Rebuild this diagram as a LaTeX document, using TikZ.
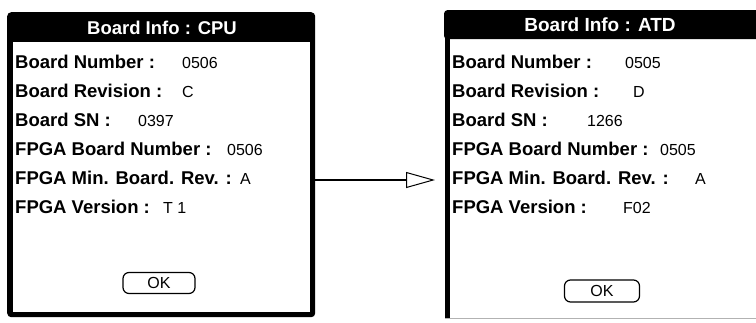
\documentclass[tikz,border=0pt]{standalone}
\usepackage{fontspec}
\setmainfont{Liberation Sans}
\usetikzlibrary{calc,arrows.meta}

\begin{document}
\begin{tikzpicture}[x=1pt,y=-1pt]

\useasboundingbox (0,0) rectangle (756,322);

\def\rowA{68.5}
\def\rowH{29}

% left dialog: CPU
\node [fill=black, rounded corners=4pt, inner sep=0, minimum width=308pt, minimum height=305pt, anchor=north west] (cpu) at (7,12) {};
\node [fill=white, inner sep=0, minimum width=297pt, minimum height=270pt, anchor=north west] (cpu_body) at (13,42) {};
\node [text=white, inner sep=0, font=\bfseries\fontsize{18.5}{18}\selectfont] (cpu_title) at (162,28) {Board Info : CPU};

\foreach \lab/\val/\vx [count=\k] in {Board Number :/0506/182, Board Revision :/C/182, Board SN :/0397/138, FPGA Board Number :/0506/227, FPGA Min. Board. Rev. :/A/240, FPGA Version :/T 1/163} {
    \node [anchor=base west, inner sep=0, font=\bfseries\fontsize{18.5}{20}\selectfont] (cpu_lab\k) at (15,{\rowA+(\k-1)*\rowH}) {\lab};
    \node [anchor=base west, inner sep=0, font=\fontsize{16}{18}\selectfont] (cpu_val\k) at (\vx,{\rowA+(\k-1)*\rowH}) {\val};
}

\node [draw, line width=1.2pt, rounded corners=6pt, minimum width=72pt, minimum height=21pt, inner sep=0, font=\fontsize{16}{18}\selectfont] (cpu_ok) at (159,283) {OK};

% right dialog: ATD
\node [fill=black, rounded corners=3pt, inner sep=0, minimum width=320pt, minimum height=29pt, anchor=north west] (atd_title) at (444,10) {};
\node [fill=black, inner sep=0, minimum width=5pt, minimum height=280pt, anchor=north west] (atd_edge) at (445,38) {};
\node [text=white, inner sep=0, font=\bfseries\fontsize{19}{18}\selectfont] (atd_name) at (600,25) {Board Info : ATD};
\draw [gray!60, line width=1.5pt] (atd_edge.south west) -- ++(311,0);

\foreach \lab/\val/\vx [count=\k] in {Board Number :/0505/625, Board Revision :/D/633, Board SN :/1266/587, FPGA Board Number :/0505/660, FPGA Min. Board. Rev. :/A/695, FPGA Version :/F02/623} {
    \node [anchor=base west, inner sep=0, font=\bfseries\fontsize{18.5}{20}\selectfont] (atd_lab\k) at (452,{\rowA+(\k-1)*\rowH}) {\lab};
    \node [anchor=base west, inner sep=0, font=\fontsize{16}{18}\selectfont] (atd_val\k) at (\vx,{\rowA+(\k-1)*\rowH}) {\val};
}

\node [draw, line width=1.2pt, rounded corners=6pt, minimum width=75pt, minimum height=22pt, inner sep=0, font=\fontsize{16}{18}\selectfont] (atd_ok) at (602,291) {OK};

% arrow between dialogs
\coordinate (atd_in) at (435,180);
\draw [line width=1.2pt, -{Triangle[open, length=29pt, width=16pt, line width=1pt]}] (cpu.east |- atd_in) -- (atd_in);

\end{tikzpicture}
\end{document}
